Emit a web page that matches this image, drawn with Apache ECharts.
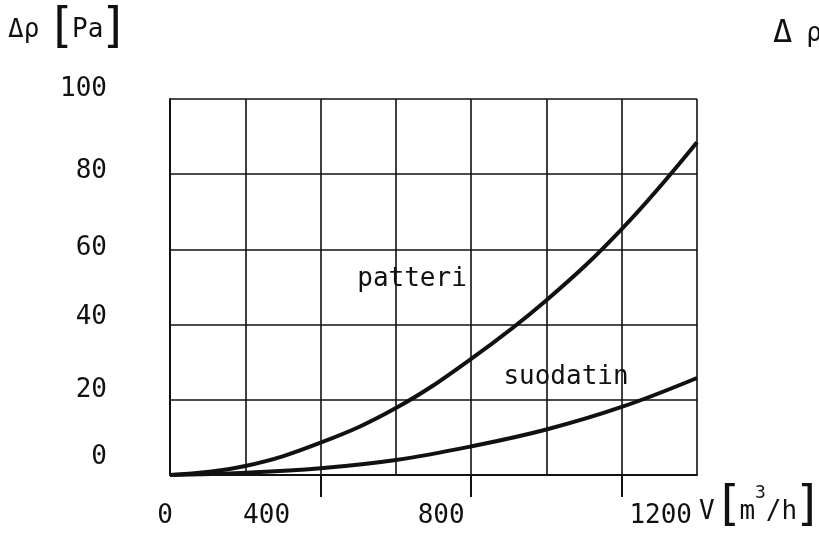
<!DOCTYPE html>
<html>
<head>
<meta charset="utf-8">
<script src="https://cdn.jsdelivr.net/npm/echarts@6/dist/echarts.min.js"></script>
<style>
html,body{margin:0;padding:0;background:#fff;}
#c{width:819px;height:534px;}
</style>
</head>
<body>
<div id="c"></div>
<script>
// Airflow V [m3/h]
var flow = [0, 200, 400, 600, 800, 1000, 1200, 1400];
// Pressure drop Δp [Pa]
var patteri = [0, 2.4, 8.6, 17.8, 30.9, 46.5, 65.4, 88.5];
var suodatin = [0, 0.6, 1.8, 4.0, 7.6, 12.1, 18.1, 25.8];
// Tick labels
var xTickLabels = [0, 400, 800, 1200];
var xTickMarks = [400, 800, 1200];
var yTickLabels = [0, 20, 40, 60, 80, 100];
var seriesNames = ['patteri', 'suodatin'];

var FONT = '"DejaVu Sans Mono", monospace';
var BFONT = '"DejaVu Sans", sans-serif';
var INK = '#111';
var FS = 26;

function pairs(ys) { return flow.map(function (x, i) { return [x, ys[i]]; }); }

// scan-offset of x labels (px, horizontal) and y labels (px, upward)
var xShift = {0: -5, 400: -54, 800: -30, 1200: 39};
var yShift = {0: 18, 20: 10, 40: 7, 60: 1, 80: 3, 100: 10};

var xRich = {}, yRich = {};
xTickLabels.forEach(function (v) {
  var d = xShift[v] || 0;
  xRich['x' + v] = {fontFamily: FONT, fontSize: FS, color: INK,
    padding: d < 0 ? [0, -2 * d, 0, 0] : [0, 0, 0, 2 * d]};
});
yTickLabels.forEach(function (v) {
  var d = yShift[v] || 0;
  yRich['y' + v] = {fontFamily: FONT, fontSize: FS, color: INK, padding: [0, 0, 2 * d, 0]};
});

var chart = echarts.init(document.getElementById('c'), null, {renderer: 'canvas'});
chart.setOption({
  animation: false,
  backgroundColor: '#fff',
  grid: {left: 170, right: 122, top: 99, bottom: 59, containLabel: false},
  xAxis: [
    {
      type: 'value', min: 0, max: 1400, interval: 200,
      axisLine: {show: true, lineStyle: {color: INK, width: 2}},
      axisTick: {show: false},
      axisLabel: {
        margin: 28,
        formatter: function (v) {
          return xTickLabels.indexOf(v) >= 0 ? '{x' + v + '|' + v + '}' : '';
        },
        rich: xRich
      },
      splitLine: {show: true, lineStyle: {color: INK, width: 1.6}}
    },
    {
      type: 'value', min: 0, max: 1400, position: 'bottom',
      axisLine: {show: false},
      axisTick: {show: true, customValues: xTickMarks, length: 22, inside: false,
        lineStyle: {color: INK, width: 2}},
      axisLabel: {show: false},
      splitLine: {show: false}
    }
  ],
  yAxis: {
    type: 'value', min: 0, max: 100, interval: 20,
    axisLine: {show: true, lineStyle: {color: INK, width: 2}},
    axisTick: {show: false},
    axisLabel: {
      margin: 63,
      formatter: function (v) { return '{y' + v + '|' + v + '}'; },
      rich: yRich
    },
    splitLine: {show: true, lineStyle: {color: INK, width: 1.6}}
  },
  series: [
    {
      name: seriesNames[0], type: 'line', smooth: 0.4, showSymbol: false,
      data: pairs(patteri),
      lineStyle: {color: INK, width: 4},
      markPoint: {
        symbol: 'circle', symbolSize: 0,
        label: {show: true, formatter: seriesNames[0], fontFamily: FONT, fontSize: FS, color: INK, position: 'inside'},
        data: [{coord: [643, 52]}]
      }
    },
    {
      name: seriesNames[1], type: 'line', smooth: 0.4, showSymbol: false,
      data: pairs(suodatin),
      lineStyle: {color: INK, width: 4},
      markPoint: {
        symbol: 'circle', symbolSize: 0,
        label: {show: true, formatter: seriesNames[1], fontFamily: FONT, fontSize: FS, color: INK, position: 'inside'},
        data: [{coord: [1052, 26]}]
      }
    }
  ],
  graphic: [
    {
      type: 'text', left: 8, top: 6,
      style: {
        text: '{d|Δρ}{b|[}{t|Pa}{b|]}',
        rich: {
          d: {fontFamily: FONT, fontSize: FS, fill: INK, verticalAlign: 'middle', padding: [0, 14, 0, 0]},
          t: {fontFamily: FONT, fontSize: FS, fill: INK, verticalAlign: 'middle'},
          b: {fontFamily: BFONT, fontSize: 48, fill: INK, verticalAlign: 'middle'}
        }
      }
    },
    {
      type: 'text', left: 773, top: 18,
      style: {
        text: '{a|Δ}{r|ρ}',
        rich: {
          a: {fontFamily: FONT, fontSize: 32, fill: INK, verticalAlign: 'middle', padding: [0, 14, 0, 0]},
          r: {fontFamily: FONT, fontSize: FS, fill: INK, verticalAlign: 'middle'}
        }
      }
    },
    {
      type: 'text', left: 699, top: 484,
      style: {
        text: '{v|V}{b|[}{t|m}{s|3}{t|/h}{b|]}',
        rich: {
          v: {fontFamily: FONT, fontSize: FS, fill: INK, verticalAlign: 'bottom', padding: [0, 6, 7, 0]},
          t: {fontFamily: FONT, fontSize: FS, fill: INK, verticalAlign: 'bottom', padding: [0, 0, 7, 0]},
          s: {fontFamily: FONT, fontSize: 18, fill: INK, verticalAlign: 'top'},
          b: {fontFamily: BFONT, fontSize: 48, fill: INK, verticalAlign: 'bottom'}
        }
      }
    }
  ]
});
</script>
</body>
</html>
